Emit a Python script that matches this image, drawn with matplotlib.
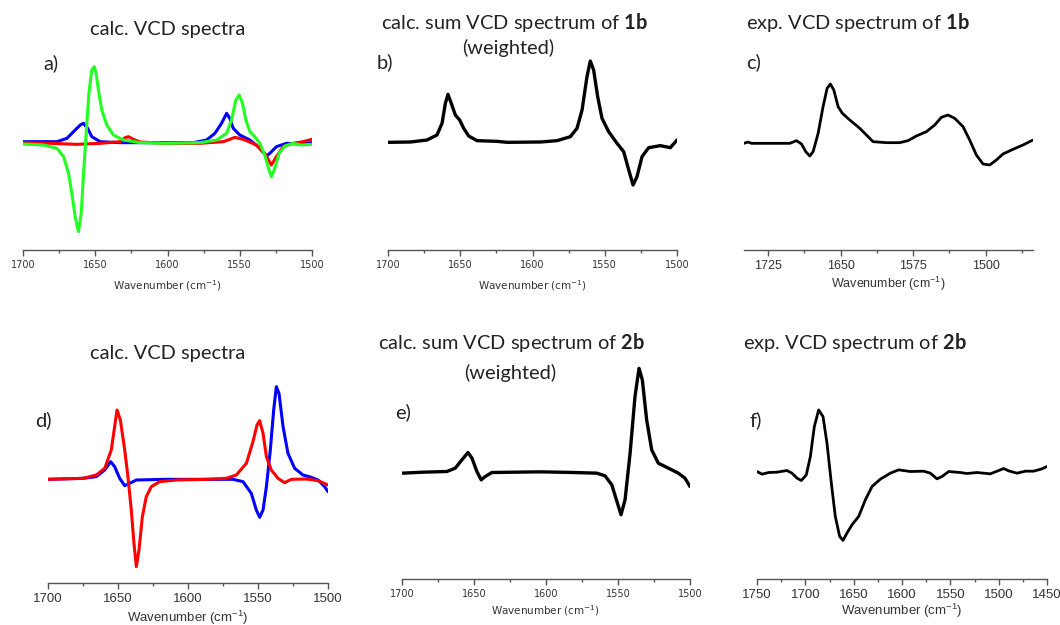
import matplotlib
matplotlib.use('Agg')
import matplotlib.pyplot as plt
from matplotlib.ticker import MultipleLocator

plt.rcParams['mathtext.fontset'] = 'custom'
plt.rcParams['mathtext.rm'] = 'Lato'
plt.rcParams['mathtext.bf'] = 'Lato:bold'
plt.rcParams['lines.solid_joinstyle'] = 'round'
plt.rcParams['lines.solid_capstyle'] = 'round'

# ---- data (y in arbitrary units, baseline = 0) ----
# panel a) calc. VCD spectra of 1b conformers
a_green_x = [1700, 1685.7, 1676.5, 1671.9, 1668.5, 1666.2, 1663.9, 1661.6, 1659.7, 1658.1,
             1656.3, 1654.4, 1652.4, 1650.7, 1649.4, 1647.8, 1645.5, 1642.0, 1637.4, 1630.5,
             1619, 1600.6, 1577.6, 1566, 1559.1, 1555.7, 1552.7, 1550.4, 1548.1, 1545.8,
             1543, 1539.6, 1536.1, 1532.7, 1529.7, 1528.1, 1525.8, 1522.8, 1518.9, 1513.1,
             1507.4, 1500]
a_green_y = [-4, -7, -17, -42, -92, -152, -222, -267, -212, -92,
             28, 148, 218, 228, 208, 158, 98, 53, 23, 8,
             0, -2, 0, 8, 28, 68, 128, 143, 118, 68,
             33, 18, -2, -37, -82, -102, -77, -32, -10, -2,
             -7, -5]
a_blue_x = [1700, 1676.5, 1669.6, 1663.9, 1660.4, 1658.1, 1655.3, 1652.4, 1646.6, 1632.8,
            1582.2, 1573.0, 1567.2, 1562.6, 1559.1, 1556.9, 1554.5, 1550, 1543, 1537.3,
            1531.5, 1529.2, 1524.6, 1517.7, 1508.5, 1500]
a_blue_y = [3, 3, 13, 38, 53, 58, 43, 18, 3, 0,
            0, 8, 28, 58, 88, 73, 43, 23, 8, -12,
            -40, -32, -12, -2, -4, 0]
a_red_x = [1700, 1681.1, 1662.7, 1646.6, 1632.8, 1629.3, 1627.0, 1623.6, 1619, 1600.6,
           1577.6, 1561.4, 1556.8, 1553.4, 1547.6, 1538.4, 1532.7, 1528.1, 1524.6, 1520,
           1513.1, 1506.2, 1500]
a_red_y = [0, -2, -5, -2, 3, 15, 18, 10, 2, -2,
           -2, 3, 10, 16, 10, -7, -32, -67, -42, -12,
           -2, 3, 10]

# panel b) calc. sum VCD spectrum of 1b (weighted)
b_x = [1700, 1684.5, 1673, 1666.1, 1662.6, 1660.3, 1658.5, 1656.2, 1653.4, 1650.4,
       1647.6, 1644.2, 1638.4, 1624.6, 1617.6, 1594.6, 1583, 1573.8, 1569.2, 1565.7,
       1562.3, 1560, 1557.7, 1554.9, 1551.9, 1547.3, 1541.5, 1536.9, 1533.4, 1530.4,
       1527.7, 1524.2, 1519.6, 1511.5, 1508, 1504.6, 1500]
b_y = [-2, -1, 5, 20, 55, 115, 142, 115, 80, 65,
       40, 17, 3, 1, -2, -1, 3, 15, 40, 95,
       195, 242, 215, 135, 70, 30, -5, -30, -85, -130,
       -105, -45, -18, -12, -15, -18, 5]

# panel c) exp. VCD spectrum of 1b
c_x = [1750, 1746, 1742.2, 1702.6, 1695.7, 1690.5, 1686.1, 1681.9, 1678.5, 1673.3,
       1668.2, 1664.0, 1660.6, 1657.1, 1652.6, 1648.2, 1640.6, 1630.2, 1623.3, 1616.5,
       1602.7, 1588.9, 1580.3, 1571.7, 1561.3, 1552.7, 1545.8, 1538.9, 1532.0, 1523.4,
       1516.5, 1509.6, 1502.7, 1495.8, 1488.9, 1482.1, 1471.7, 1461.4, 1451]
c_y = [-2, 2, -2, -2, 6, -4, -27, -40, -27, 28,
       108, 163, 176, 158, 108, 88, 68, 43, 23, 3,
       0, 0, 6, 20, 33, 53, 76, 83, 73, 48,
       8, -37, -64, -67, -52, -34, -20, -7, 8]

# panel d) calc. VCD spectra of 2b conformers
d_red_x = [1700, 1675, 1665.5, 1659.5, 1654.8, 1652.4, 1650.7, 1648.3, 1645.2, 1642.9,
           1640.5, 1638.6, 1636.9, 1635, 1632.6, 1629.8, 1626.2, 1620.2, 1608.3, 1586.9,
           1572.6, 1565.5, 1558.3, 1553.6, 1550.7, 1548.8, 1546.4, 1544, 1540.5, 1535.7,
           1531, 1526.2, 1515.5, 1507.1, 1500]
d_red_y = [0, 3, 13, 33, 88, 158, 208, 178, 88, 8,
           -92, -192, -262, -212, -112, -52, -22, -7, -2, 0,
           3, 13, 48, 113, 163, 176, 138, 68, 28, 3,
           -10, 0, 1, -4, -17]
d_blue_x = [1700, 1675, 1665.5, 1659.5, 1655.2, 1652.4, 1648.8, 1645.2, 1641.7, 1636.9,
            1615.5, 1567.9, 1560.7, 1554.8, 1551.2, 1548.8, 1546.4, 1544, 1541.2, 1538.8,
            1536.9, 1535, 1532.1, 1528.6, 1523.8, 1517.9, 1511.9, 1507.1, 1502.4, 1500]
d_blue_y = [0, 3, 8, 28, 53, 38, 3, -19, -12, -2,
            0, 0, -7, -42, -92, -114, -92, -22, 88, 208,
            278, 258, 158, 78, 33, 13, 6, -2, -22, -37]

# panel e) calc. sum VCD spectrum of 2b (weighted)
e_x = [1700, 1685, 1668.8, 1663, 1658.4, 1654.2, 1651.4, 1648, 1645, 1642.2,
       1637.6, 1604, 1580.9, 1564.7, 1559, 1554.3, 1550.4, 1547.9, 1545.1, 1541.6,
       1538.2, 1535.4, 1533.1, 1530.1, 1526.6, 1522, 1515, 1508.1, 1503.5, 1500]
e_y = [-2, 1, 3, 13, 38, 60, 43, 3, -22, -12,
       0, 2, 0, -2, -10, -37, -92, -127, -82, 58,
       228, 313, 278, 158, 68, 28, 13, -2, -17, -42]

# panel f) exp. VCD spectrum of 2b
f_x = [1750, 1744.8, 1737.9, 1729.3, 1719, 1713.8, 1708.6, 1704.1, 1699, 1694.8,
       1690.7, 1686.2, 1681.7, 1677.6, 1673.1, 1669, 1664.5, 1661, 1656.9, 1651.7,
       1644.8, 1637.9, 1631, 1622.4, 1612.1, 1603.4, 1591.4, 1577.6, 1570.7, 1563.8,
       1558.6, 1551.7, 1539.7, 1532.8, 1522.4, 1508.6, 1501.7, 1494.8, 1489.7, 1481,
       1472.4, 1463.8, 1455.2, 1450]
f_y = [2, -6, -1, 0, 5, -3, -18, -25, -8, 47,
       137, 187, 167, 87, -33, -133, -193, -205, -183, -158,
       -133, -83, -43, -21, -3, 7, 2, 3, -3, -20,
       -13, 2, -1, -4, -1, -5, 3, 11, 4, -3,
       3, 3, 10, 17]

W, H = 1060, 625
fig = plt.figure(figsize=(W / 100, H / 100), dpi=100)


def rect(l, r, t, b):
    return [l / W, 1 - b / H, (r - l) / W, (b - t) / H]


def ftext(x, y, s, **kw):
    fig.text(x / W, 1 - y / H, s, **kw)


def style(ax, xlim, ylim, major, minor, font, size):
    ax.set_xlim(*xlim)
    ax.set_ylim(*ylim)
    for s in ['top', 'right', 'left']:
        ax.spines[s].set_visible(False)
    ax.spines['bottom'].set_color('#555555')
    ax.spines['bottom'].set_linewidth(1.0)
    ax.set_yticks([])
    ax.xaxis.set_major_locator(MultipleLocator(major))
    ax.xaxis.set_minor_locator(MultipleLocator(minor))
    ax.tick_params(axis='x', which='major', direction='out', length=4, width=1,
                   color='#555555', labelsize=size, labelcolor='#333333',
                   labelfontfamily=font, pad=3)
    ax.tick_params(axis='x', which='minor', direction='out', length=2.5, width=1,
                   color='#555555')
    ax.patch.set_alpha(0)


title_kw = dict(family='Lato', fontsize=14.4, color='#222222', ha='center', va='center')
panel_kw = dict(family='Lato', fontsize=14.5, color='#222222', ha='left', va='center')
xl = r'Wavenumber (cm$^{\mathregular{-1}}$)'

# a)
ax = fig.add_axes(rect(23, 312, 55, 250))
ax.plot(a_blue_x, a_blue_y, color='#0000ff', lw=2.2)
ax.plot(a_red_x, a_red_y, color='#ff0000', lw=2.2)
ax.plot(a_green_x, a_green_y, color='#22ff22', lw=2.2)
style(ax, (1700, 1500), (-322, 263), 50, 25, 'DejaVu Sans', 7)
ax.set_xlabel(xl, fontsize=7.5, family='DejaVu Sans', color='#333333', labelpad=6)

# b)
ax = fig.add_axes(rect(388, 677, 55, 250))
ax.plot(b_x, b_y, color='black', lw=2.4)
style(ax, (1700, 1500), (-325, 260), 50, 25, 'DejaVu Sans', 7)
ax.set_xlabel(xl, fontsize=7.5, family='DejaVu Sans', color='#333333', labelpad=6)

# c)
ax = fig.add_axes(rect(744, 1033, 55, 250))
ax.plot(c_x, c_y, color='black', lw=2.0)
style(ax, (1750, 1451), (-322, 263), 75, 37.5, 'Liberation Sans', 9)
ax.set_xlabel(xl, fontsize=9, family='Liberation Sans', color='#333333', labelpad=2)

# d)
ax = fig.add_axes(rect(48, 328, 380, 583))
ax.plot(d_blue_x, d_blue_y, color='#0000ff', lw=2.2)
ax.plot(d_red_x, d_red_y, color='#ff0000', lw=2.2)
style(ax, (1700, 1500), (-311, 298), 50, 25, 'Liberation Sans', 9.5)
ax.set_xlabel(xl, fontsize=9.5, family='Liberation Sans', color='#333333', labelpad=3)

# e)
ax = fig.add_axes(rect(402, 690, 360, 579))
ax.plot(e_x, e_y, color='black', lw=2.4)
style(ax, (1700, 1500), (-320, 338), 50, 25, 'DejaVu Sans', 7)
ax.set_xlabel(xl, fontsize=7.5, family='DejaVu Sans', color='#333333', labelpad=3)

# f)
ax = fig.add_axes(rect(757, 1047, 380, 579))
ax.plot(f_x, f_y, color='black', lw=2.0)
style(ax, (1750, 1450), (-321, 277), 50, 25, 'Liberation Sans', 9.5)
ax.set_xlabel(xl, fontsize=9.5, family='Liberation Sans', color='#333333', labelpad=1)

# titles
ftext(168, 30, 'calc. VCD spectra', **title_kw)
ftext(515, 22, r'calc. sum VCD spectrum of $\mathbf{1b}$', **title_kw)
ftext(508, 48, '(weighted)', **title_kw)
ftext(858, 23, r'exp. VCD spectrum of $\mathbf{1b}$', **title_kw)
ftext(168, 353, 'calc. VCD spectra', **title_kw)
ftext(512, 343, r'calc. sum VCD spectrum of $\mathbf{2b}$', **title_kw)
ftext(510, 373, '(weighted)', **title_kw)
ftext(855, 343, r'exp. VCD spectrum of $\mathbf{2b}$', **title_kw)

# panel letters
ftext(43, 63, 'a)', **panel_kw)
ftext(377, 62, 'b)', **panel_kw)
ftext(746, 62, 'c)', **panel_kw)
ftext(35, 420, 'd)', **panel_kw)
ftext(395, 412, 'e)', **panel_kw)
ftext(750, 420, 'f)', **panel_kw)

fig.savefig('out.png', dpi=100, facecolor='white')
